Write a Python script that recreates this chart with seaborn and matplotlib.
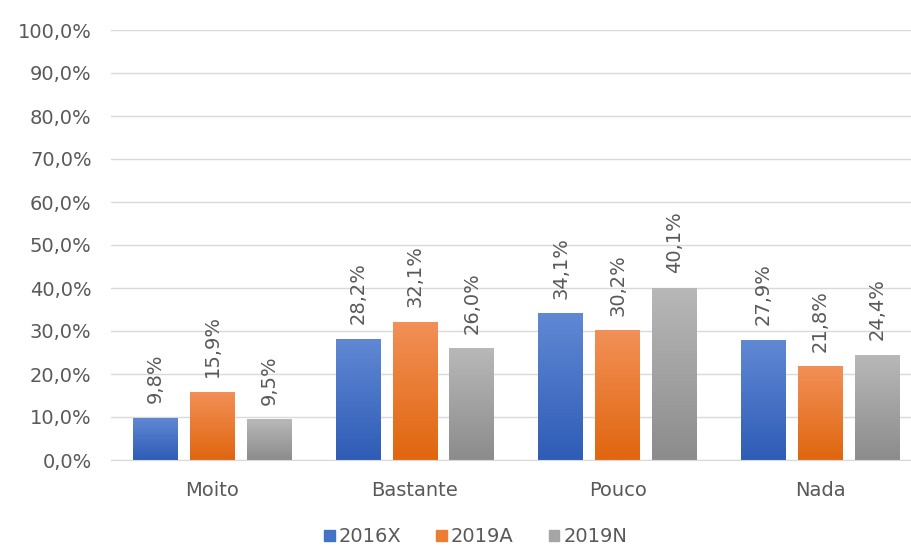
import numpy as np
import pandas as pd
import matplotlib
matplotlib.use("Agg")
import matplotlib.pyplot as plt
import seaborn as sns
from matplotlib.colors import LinearSegmentedColormap
from matplotlib.ticker import FuncFormatter

categories = ["Moito", "Bastante", "Pouco", "Nada"]
series = ["2016X", "2019A", "2019N"]
v2016x = [9.8, 28.2, 34.1, 27.9]
v2019a = [15.9, 32.1, 30.2, 21.8]
v2019n = [9.5, 26.0, 40.1, 24.4]

colors = ["#4472C4", "#ED7D31", "#A5A5A5"]
grad = [("#2F5CB6", "#6088D4"), ("#E0660F", "#F29057"), ("#8C8C8C", "#B8B8B8")]

df = pd.DataFrame({
    "cat": categories * 3,
    "serie": sum([[s] * 4 for s in series], []),
    "val": v2016x + v2019a + v2019n,
})

sns.set_style("white")
plt.rcParams["font.family"] = ["DejaVu Sans"]

fig = plt.figure(figsize=(9.11, 5.47), dpi=100)
ax = fig.add_axes([111 / 911, 1 - 460 / 547, 1 - 111 / 911, 430 / 547])

sns.barplot(data=df, x="cat", y="val", hue="serie", order=categories,
            hue_order=series, palette=colors, width=0.84, gap=0.21,
            ax=ax, legend=False)

ax.set_ylim(0, 100)
ax.set_xlim(-0.5, 3.448)
ax.set_yticks(np.arange(0, 101, 10))
ax.yaxis.set_major_formatter(FuncFormatter(lambda v, p: f"{v:.1f}%".replace(".", ",")))
ax.grid(axis="y", color="#D9D9D9", linewidth=1)
ax.set_axisbelow(True)
for s in ["top", "right", "left"]:
    ax.spines[s].set_visible(False)
ax.spines["bottom"].set_color("#D9D9D9")
ax.tick_params(axis="y", length=0, labelsize=14, labelcolor="#595959", pad=14)
ax.tick_params(axis="x", length=0, labelsize=14, labelcolor="#595959", pad=15)
ax.set_xlabel("")
ax.set_ylabel("")

# gradient fill + value labels
for k, cont in enumerate(ax.containers):
    cmap = LinearSegmentedColormap.from_list("g", list(grad[k]))
    for bar in cont:
        x0, y0 = bar.get_x(), bar.get_y()
        w, h = bar.get_width(), bar.get_height()
        bar.set_facecolor("none")
        bar.set_edgecolor("none")
        img = ax.imshow(np.linspace(0, 1, 100).reshape(-1, 1), cmap=cmap,
                        extent=[x0, x0 + w, y0, y0 + h], origin="lower",
                        aspect="auto", zorder=2)
        img.set_clip_path(bar)
        ax.text(x0 + w / 2, h + 3.4, f"{h:.1f}%".replace(".", ","),
                rotation=90, ha="center", va="bottom", fontsize=14,
                color="#595959")

ax.set_xlim(-0.5, 3.448)
ax.set_ylim(0, 100)

handles = [plt.Rectangle((0, 0), 1, 1, color=c) for c in colors]
fig.legend(handles, series, loc="center", bbox_to_anchor=(0.522, 1 - 537 / 547),
           ncol=3, frameon=False, fontsize=14, handlelength=0.55,
           handleheight=0.55, handletextpad=0.2, columnspacing=1.8,
           labelcolor="#595959")

fig.savefig("out.png", dpi=100)
